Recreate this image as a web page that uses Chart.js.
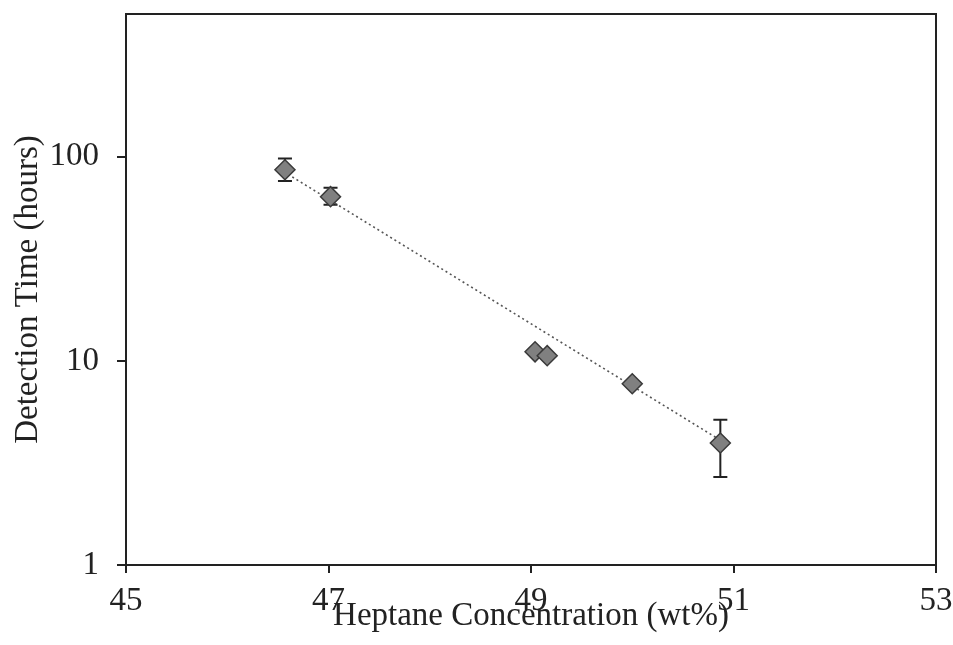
<!DOCTYPE html>
<html>
<head>
<meta charset="utf-8">
<script src="https://cdn.jsdelivr.net/npm/chart.js@4/dist/chart.umd.min.js"></script>
<style>
  html, body { margin: 0; padding: 0; background: #fff; }
  #wrap { width: 953px; height: 645px; }
</style>
</head>
<body>
<div id="wrap"><canvas id="myChart" width="953" height="645"></canvas></div>
<script>
// my data
const heptane = [46.57, 47.02, 49.04, 49.16, 50.0, 50.87]      // wt%
const detTime = [86.3, 63.7, 11.07, 10.6, 7.72, 3.96]           // hours
const errLow  = [76, 58.2, null, null, null, 2.70]
const errHigh = [98, 70.5, null, null, null, 5.14]
// trend line end points
const trendX = [46.6, 50.9]
const trendY = [82, 4.0]
const xTicks = [45, 47, 49, 51, 53]
const yTicks = [1, 10, 100]

const ink = '#222'
const serif = { family: "'Liberation Serif', 'Times New Roman', serif", size: 33 }

/////////////////////////////////////////////////////////////
// plugins: error bars + box frame
/////////////////////////////////////////////////////////////
const errorBars = {
    id: 'errorBars',
    beforeDatasetsDraw(chart) {
        const {ctx, scales: {x, y}} = chart
        ctx.save()
        ctx.strokeStyle = ink
        ctx.lineWidth = 2
        heptane.forEach((v, i) => {
            if (errLow[i] == null) return
            const px = x.getPixelForValue(v)
            const y1 = y.getPixelForValue(errLow[i])
            const y2 = y.getPixelForValue(errHigh[i])
            ctx.beginPath()
            ctx.moveTo(px, y1); ctx.lineTo(px, y2)
            ctx.moveTo(px - 7, y1); ctx.lineTo(px + 7, y1)
            ctx.moveTo(px - 7, y2); ctx.lineTo(px + 7, y2)
            ctx.stroke()
        })
        ctx.restore()
    }
}

const frame = {
    id: 'frame',
    afterDraw(chart) {
        const {ctx, chartArea: a} = chart
        ctx.save()
        ctx.strokeStyle = ink
        ctx.lineWidth = 2
        ctx.beginPath()
        ctx.moveTo(a.left, a.top); ctx.lineTo(a.right, a.top); ctx.lineTo(a.right, a.bottom)
        ctx.stroke()
        ctx.restore()
    }
}

// setup
const data = {
    datasets: [{
        type: 'scatter',
        label: 'Detection time',
        data: heptane.map((v, i) => ({x: v, y: detTime[i]})),
        pointStyle: 'rectRot',
        pointRadius: 10,
        backgroundColor: '#808080',
        borderColor: '#3a3a3a',
        borderWidth: 1.5,
        order: 1
    }, {
        type: 'line',
        label: 'Trend',
        data: trendX.map((v, i) => ({x: v, y: trendY[i]})),
        borderColor: '#555',
        borderWidth: 1.6,
        borderDash: [2, 3],
        pointRadius: 0,
        fill: false,
        order: 2
    }]
}

// config
const config = {
    data: data,
    plugins: [errorBars, frame],
    options: {
        responsive: false,
        animation: false,
        layout: { padding: { top: 14, right: 17, left: 0, bottom: 0 } },
        plugins: {
            legend: { display: false },
            tooltip: { enabled: false }
        },
        scales: {
            x: {
                type: 'linear',
                min: 45,
                max: 53,
                afterBuildTicks: s => { s.ticks = xTicks.map(v => ({value: v})) },
                afterFit: s => { s.height = 80; s.paddingLeft = 0; s.paddingRight = 0 },
                ticks: { font: serif, color: ink, padding: 9, maxRotation: 0 },
                grid: { drawOnChartArea: false, drawTicks: true, tickLength: 8, color: ink, lineWidth: 2 },
                border: { display: true, color: ink, width: 2 },
                title: {
                    display: true,
                    text: 'Heptane Concentration (wt%)',
                    font: serif,
                    color: ink,
                    padding: { top: 0, bottom: 9 }
                }
            },
            y: {
                type: 'logarithmic',
                min: 1,
                max: 500,
                afterBuildTicks: s => { s.ticks = yTicks.map(v => ({value: v})) },
                afterFit: s => { s.width = 126; s.paddingTop = 0; s.paddingBottom = 0 },
                ticks: { font: serif, color: ink, padding: 18, callback: v => String(v) },
                grid: { drawOnChartArea: false, drawTicks: true, tickLength: 9, color: ink, lineWidth: 2 },
                border: { display: true, color: ink, width: 2 },
                title: {
                    display: true,
                    text: 'Detection Time (hours)',
                    font: serif,
                    color: ink,
                    padding: { top: 9, bottom: 0 }
                }
            }
        }
    }
}

// render
const myChart = new Chart(document.getElementById('myChart'), config)
</script>
</body>
</html>
